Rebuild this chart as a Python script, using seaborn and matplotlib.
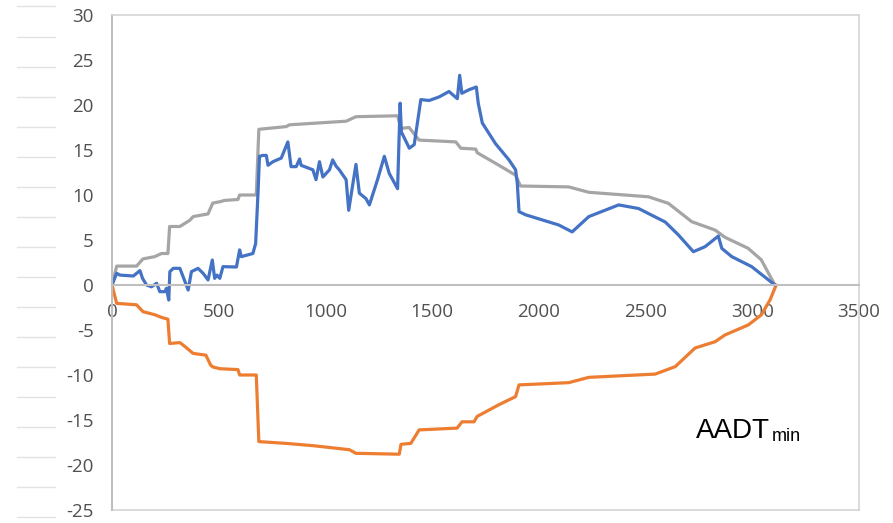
import matplotlib
matplotlib.use("Agg")
import matplotlib.pyplot as plt
from matplotlib.lines import Line2D
import seaborn as sns
import pandas as pd

# ---- data ----
blue_x = [0, 22, 37, 100, 131, 143, 162, 185, 209, 224, 248, 255, 266, 271, 287, 318, 333, 357, 372, 403,
          427, 450, 470, 481, 492, 505, 520, 583, 598, 606, 660, 673, 684, 691, 707, 723, 731, 754, 793, 824,
          839, 863, 879, 886, 941, 956, 972, 988, 1019, 1034, 1050, 1065, 1097, 1109, 1143, 1159, 1190, 1206,
          1244, 1276, 1299, 1338, 1350, 1356, 1393, 1416, 1447, 1486, 1533, 1579, 1618, 1629, 1639, 1673,
          1707, 1716, 1735, 1797, 1860, 1891, 1899, 1907, 1938, 2093, 2156, 2234, 2374, 2467, 2592, 2654,
          2724, 2779, 2841, 2857, 2904, 2997, 3106]
blue_y = [0, 1.3, 1.1, 1.0, 1.6, 0.74, 0.0, -0.2, 0.19, -0.74, -0.74, -0.37, -1.67, 1.48, 1.85, 1.85, 0.93,
          -0.56, 1.48, 1.85, 1.3, 0.56, 2.78, 0.74, 1.1, 0.74, 2.04, 2.0, 3.9, 3.15, 3.5, 4.6, 10.2, 14.3,
          14.4, 14.4, 13.3, 13.7, 14.1, 15.9, 13.15, 13.15, 14.0, 13.3, 12.8, 11.7, 13.7, 12.0, 12.8, 13.9,
          13.2, 12.8, 11.7, 8.3, 13.4, 10.2, 9.6, 8.9, 11.7, 14.3, 12.4, 10.7, 20.2, 17.0, 15.2, 15.6, 20.6,
          20.5, 20.9, 21.5, 20.7, 23.3, 21.3, 21.7, 22.0, 20.2, 18.0, 15.7, 13.9, 12.8, 11.3, 8.15, 7.8, 6.67,
          5.9, 7.6, 8.9, 8.5, 7.0, 5.56, 3.7, 4.26, 5.44, 4.07, 3.15, 2.04, 0]

gray_x = [0, 22, 115, 145, 200, 232, 262, 270, 318, 365, 380, 450, 472, 505, 528, 590, 598, 676, 688, 816,
          832, 1097, 1143, 1338, 1354, 1392, 1439, 1611, 1634, 1704, 1711, 1813, 1891, 1914, 2140, 2234,
          2514, 2607, 2716, 2826, 2872, 2981, 3042, 3106]
gray_y = [0, 2.1, 2.1, 2.9, 3.15, 3.5, 3.5, 6.5, 6.5, 7.2, 7.6, 7.9, 9.1, 9.25, 9.4, 9.5, 10.0, 10.0, 17.3,
          17.6, 17.8, 18.2, 18.7, 18.8, 17.4, 17.5, 16.1, 15.9, 15.2, 15.1, 14.7, 13.3, 12.2, 11.0, 10.9,
          10.3, 9.8, 9.07, 7.04, 6.1, 5.3, 4.07, 2.8, 0]

orange_x = [0, 22, 115, 145, 200, 232, 262, 270, 318, 345, 380, 440, 462, 472, 505, 590, 598, 676, 688, 816,
            941, 1112, 1143, 1346, 1354, 1400, 1439, 1617, 1640, 1696, 1711, 1813, 1891, 1907, 2140, 2234,
            2545, 2639, 2732, 2826, 2872, 2981, 3042, 3083, 3112]
orange_y = [0, -2.04, -2.2, -2.96, -3.3, -3.6, -3.8, -6.5, -6.4, -6.9, -7.6, -7.8, -8.9, -9.1, -9.3, -9.4,
            -10.0, -10.0, -17.4, -17.6, -17.85, -18.3, -18.7, -18.8, -17.7, -17.6, -16.1, -15.9, -15.2, -15.2,
            -14.6, -13.3, -12.4, -11.1, -10.85, -10.26, -9.9, -9.07, -7.0, -6.3, -5.55, -4.44, -3.33, -1.67, 0]

x_ticks = [0, 500, 1000, 1500, 2000, 2500, 3000, 3500]
y_ticks = [-25, -20, -15, -10, -5, 0, 5, 10, 15, 20, 25, 30]
label_main = "AADT"
label_sub = "min"

# ---- build long table ----
frames = []
for name, xs, ys in [("gray", gray_x, gray_y), ("orange", orange_x, orange_y), ("blue", blue_x, blue_y)]:
    frames.append(pd.DataFrame({"x": xs, "y": ys, "series": name}))
df = pd.concat(frames, ignore_index=True)

sns.set_style("white")
plt.rcParams["font.family"] = ["Open Sans", "DejaVu Sans"]
plt.rcParams["axes.unicode_minus"] = False

W, H = 893, 523
fig = plt.figure(figsize=(W / 100, H / 100), dpi=100)
ax = fig.add_axes([112 / W, 1 - 510 / H, (859 - 112) / W, (510 - 15) / H])

palette = {"gray": "#A5A5A5", "orange": "#ED7D31", "blue": "#4472C4"}
sns.lineplot(data=df, x="x", y="y", hue="series", units="series", palette=palette,
             estimator=None, sort=False, legend=False, linewidth=2.3, ax=ax)

ax.set_xlim(0, 3500)
ax.set_ylim(-25, 30)
ax.set_xticks(x_ticks)
ax.set_yticks(y_ticks)
ax.set_xlabel("")
ax.set_ylabel("")

tick_color = "#505050"
ax.tick_params(axis="both", labelsize=13.5, labelcolor=tick_color, color="#bfbfbf",
               length=5, width=1.2, direction="out")
ax.tick_params(axis="x", pad=8)
ax.tick_params(axis="y", pad=8)

ax.spines["bottom"].set_position(("data", 0))
ax.spines["bottom"].set_color("#bfbfbf")
ax.spines["bottom"].set_linewidth(1.5)
ax.spines["left"].set_color("#bfbfbf")
ax.spines["left"].set_linewidth(1.5)
for s in ["top", "right"]:
    ax.spines[s].set_color("#d4d4d4")
    ax.spines[s].set_linewidth(1.2)
# frame bottom edge
ax.add_line(Line2D([0, 1], [0, 0], transform=ax.transAxes, color="#d4d4d4", lw=1.2, clip_on=False))

# annotation AADT_min
t1 = ax.text(2734, -17.0, label_main, fontsize=20, family=["Liberation Sans", "DejaVu Sans"],
             color="black", va="baseline", ha="left")
ax.annotate(label_sub, xy=(1, 0), xycoords=t1, xytext=(1.5, 2.5), textcoords="offset points",
            fontsize=13, family=["Liberation Sans", "DejaVu Sans"], color="black", va="baseline", ha="left")

# faint horizontal strokes on the far left of the image
for py in [6, 37, 67, 97, 127, 157, 187, 217, 247, 277, 307, 337, 367, 397, 427, 457, 487, 517]:
    fig.add_artist(Line2D([17 / W, 55 / W], [1 - py / H, 1 - py / H], transform=fig.transFigure,
                          color="#e3e3e3", lw=1.0))

fig.savefig("out.png", dpi=100)
